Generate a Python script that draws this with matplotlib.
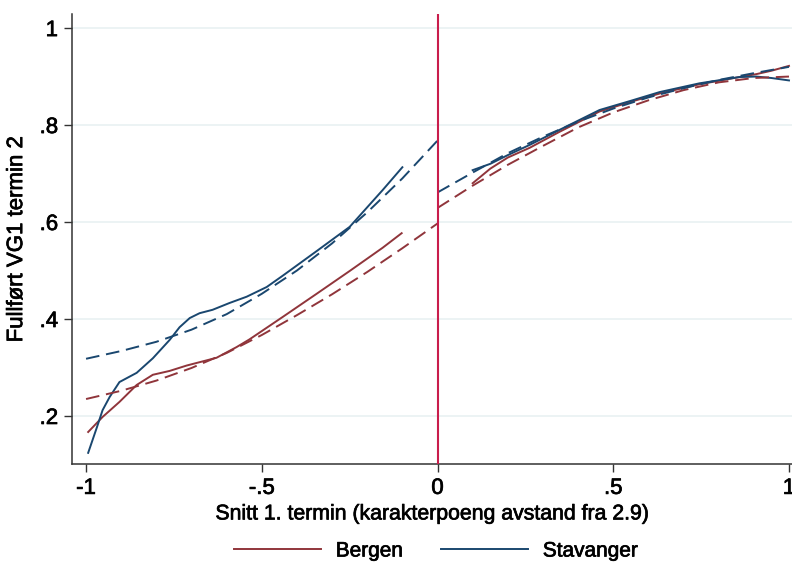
import numpy as np
import matplotlib
matplotlib.use('Agg')
from matplotlib import pyplot as plt
import matplotlib.patheffects as pe

plt.rcParams['font.family'] = ['Liberation Sans', 'DejaVu Sans']

# Bergen, local smooth (solid) and quadratic fit (dashed), each side of the cutoff
bergen_lo_left_x = [-0.994, -0.953, -0.905, -0.856, -0.81, -0.762, -0.714, -0.629, -0.572,
                    -0.535, -0.441, -0.344, -0.25, -0.156, -0.102]
bergen_lo_left_y = [0.167, 0.198, 0.229, 0.264, 0.285, 0.293, 0.304, 0.32, 0.342,
                    0.358, 0.404, 0.452, 0.499, 0.547, 0.577]
bergen_lo_right_x = [0.1, 0.15, 0.2, 0.262, 0.347, 0.461, 0.55, 0.632, 0.745, 0.859, 0.907, 0.95, 1.0]
bergen_lo_right_y = [0.68, 0.71, 0.733, 0.753, 0.786, 0.828, 0.848, 0.865, 0.884, 0.899, 0.905, 0.912, 0.922]

bergen_fit_left_x = [-1, -0.9, -0.8, -0.7, -0.6, -0.5, -0.4, -0.3, -0.2, -0.1, 0]
bergen_fit_left_y = [0.235, 0.252, 0.273, 0.299, 0.33, 0.367, 0.408, 0.451, 0.497, 0.546, 0.597]
bergen_fit_right_x = [0, 0.1, 0.2, 0.3, 0.4, 0.5, 0.6, 0.7, 0.8, 0.9, 1.0]
bergen_fit_right_y = [0.629, 0.675, 0.718, 0.757, 0.795, 0.826, 0.851, 0.872, 0.888, 0.897, 0.9]

# Stavanger
stav_lo_left_x = [-0.994, -0.969, -0.953, -0.933, -0.905, -0.856, -0.81, -0.762, -0.734, -0.705,
                  -0.677, -0.64, -0.592, -0.543, -0.486, -0.441, -0.344, -0.25, -0.156, -0.1]
stav_lo_left_y = [0.124, 0.177, 0.212, 0.239, 0.27, 0.289, 0.319, 0.357, 0.383, 0.402,
                  0.412, 0.419, 0.433, 0.446, 0.466, 0.489, 0.54, 0.59, 0.666, 0.713]
stav_lo_right_x = [0.1, 0.15, 0.2, 0.262, 0.347, 0.461, 0.55, 0.632, 0.745, 0.859, 0.907, 0.95, 1.0]
stav_lo_right_y = [0.707, 0.72, 0.738, 0.759, 0.79, 0.831, 0.85, 0.868, 0.886, 0.899, 0.9, 0.897, 0.892]

stav_fit_left_x = [-1, -0.9, -0.8, -0.7, -0.6, -0.5, -0.4, -0.3, -0.2, -0.1, 0]
stav_fit_left_y = [0.318, 0.334, 0.353, 0.378, 0.41, 0.452, 0.5, 0.556, 0.62, 0.69, 0.768]
stav_fit_right_x = [0, 0.1, 0.2, 0.3, 0.4, 0.5, 0.6, 0.7, 0.8, 0.9, 1.0]
stav_fit_right_y = [0.661, 0.702, 0.742, 0.776, 0.807, 0.834, 0.857, 0.876, 0.893, 0.907, 0.92]

xticks = [-1, -0.5, 0, 0.5, 1]
xtick_labels = ['-1', '-.5', '0', '.5', '1']
yticks = [0.2, 0.4, 0.6, 0.8, 1.0]
ytick_labels = ['.2', '.4', '.6', '.8', '1']

RED = '#90353b'
BLUE = '#1a476f'
CUT = '#c91d4c'
heavy = [pe.withStroke(linewidth=0.5, foreground='black')]

fig = plt.figure(figsize=(7.92, 5.65), dpi=100)
ax = fig.add_axes([72/792, 1 - 464/565, 720.5/792, 450/565])

for y in yticks:
    ax.axhline(y, color='#eaf2f3', lw=1.3, zorder=0)

dash = (0, (7, 3.5))
ax.plot(bergen_lo_left_x, bergen_lo_left_y, color=RED, lw=1.4, label='Bergen')
ax.plot(bergen_lo_right_x, bergen_lo_right_y, color=RED, lw=1.4)
ax.plot(stav_lo_left_x, stav_lo_left_y, color=BLUE, lw=1.4, label='Stavanger')
ax.plot(stav_lo_right_x, stav_lo_right_y, color=BLUE, lw=1.4)
ax.plot(bergen_fit_left_x, bergen_fit_left_y, color=RED, lw=1.4, ls=dash)
ax.plot(bergen_fit_right_x, bergen_fit_right_y, color=RED, lw=1.4, ls=dash)
ax.plot(stav_fit_left_x, stav_fit_left_y, color=BLUE, lw=1.4, ls=dash)
ax.plot(stav_fit_right_x, stav_fit_right_y, color=BLUE, lw=1.4, ls=dash)

ax.axvline(0, color=CUT, lw=1.5, zorder=5)

ax.set_xlim(-1.04, 1.01)
ax.set_ylim(0.101, 1.029)
ax.set_xticks(xticks)
ax.set_xticklabels(xtick_labels)
ax.set_yticks(yticks)
ax.set_yticklabels(ytick_labels)
ax.tick_params(labelsize=16, length=6, width=1, color='#333333', pad=4)
for lab in ax.get_xticklabels() + ax.get_yticklabels():
    lab.set_path_effects(heavy)
ax.spines['top'].set_visible(False)
ax.spines['right'].set_visible(False)
for s in ['left', 'bottom']:
    ax.spines[s].set_color('#333333')
    ax.spines[s].set_linewidth(1.1)

ax.set_xlabel('Snitt 1. termin (karakterpoeng avstand fra 2.9)', fontsize=15.3, labelpad=4,
              path_effects=heavy)
ax.set_ylabel('Fullført VG1 termin 2', fontsize=16, labelpad=9, path_effects=heavy)

leg = fig.legend(loc='center', bbox_to_anchor=(436/792, 1 - 551/565), ncol=2, frameon=False,
                 fontsize=15, handlelength=4.2, handletextpad=0.7, columnspacing=1.8)
for t in leg.get_texts():
    t.set_path_effects(heavy)

fig.savefig('out.png', dpi=100)
